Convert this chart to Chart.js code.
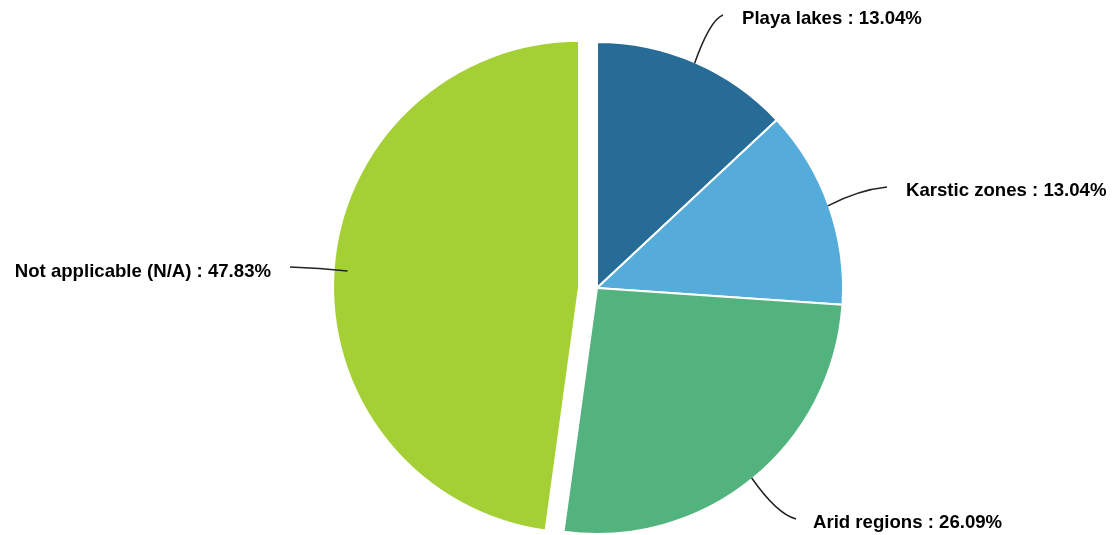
<!DOCTYPE html>
<html>
<head>
<meta charset="utf-8">
<script src="https://cdn.jsdelivr.net/npm/chart.js@4/dist/chart.umd.min.js"></script>
<style>
  html, body { margin: 0; padding: 0; background: #fff; }
  #wrap { width: 1113px; height: 535px; }
</style>
</head>
<body>
<div id="wrap"><canvas id="pie" width="1113" height="535"></canvas></div>
<script>
const categories = ["Playa lakes", "Karstic zones", "Arid regions", "Not applicable (N/A)"];
const percentages = [13.04, 13.04, 26.09, 47.83];
const sliceColors = ["#276b97", "#55abd9", "#53b37f", "#a4d036"];
// pull-out distance per slice (px), same radius as the rest
const sliceShift = [0, 0, 0, 18];

// leader line / label placement, relative to the pie centre
const labelLayout = [
  { inset: 1, end: [126, -273], ctrl: [113, -268], text: [145, -269], align: "left" },
  { inset: 1, end: [290, -101], ctrl: [261, -98], text: [309, -97], align: "left" },
  { inset: 1, end: [199, 231], ctrl: [180, 226], text: [216, 235], align: "left" },
  { inset: 14, end: [-307, -21], ctrl: [-277, -20], text: [-326, -16], align: "right" },
];

// move exploded slices outward without growing them (Chart.js offset also enlarges big arcs)
const explode = {
  id: "explode",
  afterDatasetsUpdate(chart) {
    chart.getDatasetMeta(0).data.forEach((arc, i) => {
      if (!sliceShift[i]) return;
      const mid = (arc.startAngle + arc.endAngle) / 2;
      arc.x += Math.cos(mid) * sliceShift[i];
      arc.y += Math.sin(mid) * sliceShift[i];
    });
  }
};

const sliceLabels = {
  id: "sliceLabels",
  afterDatasetsDraw(chart) {
    const ctx = chart.ctx;
    const area = chart.chartArea;
    const cx = (area.left + area.right) / 2;
    const cy = (area.top + area.bottom) / 2;
    ctx.save();
    chart.getDatasetMeta(0).data.forEach((arc, i) => {
      const { x, y, startAngle, endAngle, outerRadius } = arc;
      const lay = labelLayout[i];
      const mid = (startAngle + endAngle) / 2;
      const dist = outerRadius - lay.inset;
      const sx = x + Math.cos(mid) * dist;
      const sy = y + Math.sin(mid) * dist;

      ctx.beginPath();
      ctx.moveTo(sx, sy);
      ctx.quadraticCurveTo(cx + lay.ctrl[0], cy + lay.ctrl[1], cx + lay.end[0], cy + lay.end[1]);
      ctx.strokeStyle = "#222";
      ctx.lineWidth = 1.5;
      ctx.stroke();

      ctx.font = "bold 18.6px 'Liberation Sans', Arial, sans-serif";
      ctx.fillStyle = "#000";
      ctx.textAlign = lay.align;
      ctx.textBaseline = "middle";
      ctx.fillText(categories[i] + " : " + percentages[i].toFixed(2) + "%", cx + lay.text[0], cy + lay.text[1]);
    });
    ctx.restore();
  }
};

new Chart(document.getElementById("pie"), {
  type: "pie",
  data: {
    labels: categories,
    datasets: [{
      data: percentages,
      backgroundColor: sliceColors,
      borderColor: "#fff",
      borderWidth: 2,
    }]
  },
  options: {
    responsive: false,
    animation: false,
    radius: 246,
    layout: { padding: { left: 81, right: 0, top: 41, bottom: 0 } },
    plugins: {
      legend: { display: false },
      tooltip: { enabled: false },
    }
  },
  plugins: [explode, sliceLabels]
});
</script>
</body>
</html>
